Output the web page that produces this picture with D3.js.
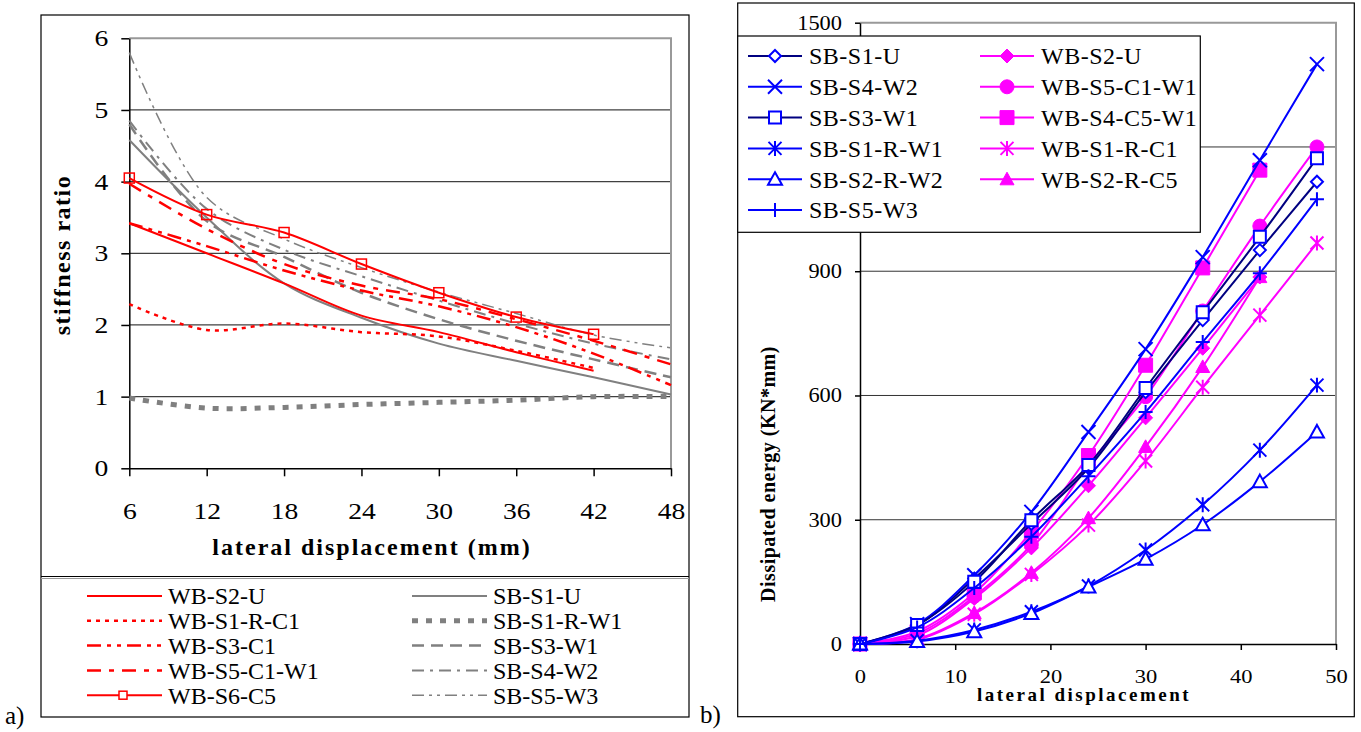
<!DOCTYPE html>
<html>
  <head>
    <meta charset="UTF-8" />
    <script src="https://cdnjs.cloudflare.com/ajax/libs/d3/7.8.5/d3.min.js"></script>
    <style>
      body { margin: 0; background: #fff; }
      text { font-family: "Liberation Serif", "Times New Roman", serif; fill: #000; }
    </style>
  </head>
  <body>
    <div id="viz"><svg width="1361" height="732"></svg></div>
    <script>
      // ---- a) stiffness ratio ----
      const dispA = [6, 12, 18, 24, 30, 36, 42, 48];
      const ticksA = [0, 1, 2, 3, 4, 5, 6];

      const wbS2U = [3.42, 3.0, 2.58, 2.13, 1.9, 1.62, 1.36];
      const wbS1RC1 = [2.29, 1.93, 2.02, 1.9, 1.84, 1.64, 1.4];
      const wbS3C1 = [3.42, 3.1, 2.76, 2.48, 2.26, 1.97, 1.6, 1.16];
      const wbS5C1W1 = [3.97, 3.34, 2.85, 2.55, 2.36, 2.08, 1.78, 1.45];
      const wbS6C5 = [4.05, 3.54, 3.29, 2.85, 2.45, 2.11, 1.87];

      const sbS1U = [4.58, 3.5, 2.58, 2.1, 1.74, 1.5, 1.27, 1.03];
      const sbS1RW1 = [0.98, 0.84, 0.85, 0.89, 0.92, 0.95, 1.0, 1.0];
      const sbS3W1 = [4.8, 3.45, 2.95, 2.45, 2.08, 1.78, 1.52, 1.27];
      const sbS4W2 = [4.85, 3.62, 3.05, 2.68, 2.34, 2.02, 1.74, 1.52];
      const sbS5W3 = [5.8, 3.78, 3.2, 2.8, 2.46, 2.16, 1.86, 1.68];

      // ---- b) dissipated energy ----
      const dispB = [0, 6, 12, 18, 24, 30, 36, 42, 48];
      const ticksBy = [0, 300, 600, 900, 1200, 1500];
      const ticksBx = [0, 10, 20, 30, 40, 50];

      const eSbS1U = [0, 45, 158, 290, 425, 608, 782, 951, 1116];
      const eSbS4W2 = [0, 48, 166, 319, 512, 712, 934, 1168, 1400];
      const eSbS3W1 = [0, 46, 150, 299, 432, 618, 801, 983, 1173];
      const eSbS1RW1 = [0, 8, 34, 78, 140, 227, 336, 468, 625];
      const eSbS2RW2 = [0, 6, 30, 74, 138, 205, 288, 392, 512];
      const eSbS5W3 = [0, 40, 135, 259, 405, 560, 729, 895, 1074];
      const eWbS2U = [0, 20, 110, 232, 382, 546, 714, 886];
      const eWbS5C1W1 = [0, 25, 115, 240, 432, 597, 804, 1009, 1200];
      const eWbS4C5W1 = [0, 30, 123, 271, 455, 673, 908, 1144];
      const eWbS1RC1 = [0, 10, 72, 168, 287, 442, 620, 794, 968];
      const eWbS2RC5 = [0, 12, 75, 172, 304, 476, 669, 886];

      const RED = "#ff0000", GREY = "#808080", BLUE = "#0000ff", NAVY = "#000080", MAG = "#ff00ff";

      const seriesA = [
        { name: "WB-S2-U", v: wbS2U, c: RED, w: 2, dash: null },
        { name: "WB-S1-R-C1", v: wbS1RC1, c: RED, w: 2.5, dash: "4,5" },
        { name: "WB-S3-C1", v: wbS3C1, c: RED, w: 2.5, dash: "14,6,4,6,4,6" },
        { name: "WB-S5-C1-W1", v: wbS5C1W1, c: RED, w: 2.5, dash: "14,8,5,8" },
        { name: "WB-S6-C5", v: wbS6C5, c: RED, w: 2, dash: null, marker: true },
        { name: "SB-S1-U", v: sbS1U, c: GREY, w: 2, dash: null },
        { name: "SB-S1-R-W1", v: sbS1RW1, c: GREY, w: 5, dash: "6,8" },
        { name: "SB-S3-W1", v: sbS3W1, c: GREY, w: 2.5, dash: "12,7" },
        { name: "SB-S4-W2", v: sbS4W2, c: GREY, w: 2, dash: "12,6,3,6" },
        { name: "SB-S5-W3", v: sbS5W3, c: GREY, w: 1.5, dash: "12,5,3,5,3,5" }
      ];

      const seriesB = [
        { name: "SB-S1-U", v: eSbS1U, c: NAVY, m: BLUE, t: "diamond", fill: false },
        { name: "SB-S4-W2", v: eSbS4W2, c: BLUE, m: BLUE, t: "x", fill: false },
        { name: "SB-S3-W1", v: eSbS3W1, c: NAVY, m: BLUE, t: "square", fill: false },
        { name: "SB-S1-R-W1", v: eSbS1RW1, c: BLUE, m: BLUE, t: "asterisk", fill: false },
        { name: "SB-S2-R-W2", v: eSbS2RW2, c: BLUE, m: BLUE, t: "triangle", fill: false },
        { name: "SB-S5-W3", v: eSbS5W3, c: BLUE, m: BLUE, t: "plus", fill: false },
        { name: "WB-S2-U", v: eWbS2U, c: MAG, m: MAG, t: "diamond", fill: true },
        { name: "WB-S5-C1-W1", v: eWbS5C1W1, c: MAG, m: MAG, t: "circle", fill: true },
        { name: "WB-S4-C5-W1", v: eWbS4C5W1, c: MAG, m: MAG, t: "square", fill: true },
        { name: "WB-S1-R-C1", v: eWbS1RC1, c: MAG, m: MAG, t: "asterisk", fill: false },
        { name: "WB-S2-R-C5", v: eWbS2RC5, c: MAG, m: MAG, t: "triangle", fill: true }
      ];

      const svg = d3.select("svg");

      function markerPath(type, s) {
        switch (type) {
          case "diamond": return `M0,${-s}L${s},0L0,${s}L${-s},0Z`;
          case "square": return `M${-s},${-s}H${s}V${s}H${-s}Z`;
          case "triangle": return `M0,${-s}L${s},${s * 0.8}L${-s},${s * 0.8}Z`;
          case "circle": return d3.symbol().type(d3.symbolCircle).size(Math.PI * s * s)();
          case "x": return `M${-s},${-s}L${s},${s}M${s},${-s}L${-s},${s}`;
          case "plus": return `M${-s},0H${s}M0,${-s}V${s}`;
          case "asterisk": return `M${-s},${-s}L${s},${s}M${s},${-s}L${-s},${s}M0,${-s * 1.15}V${s * 1.15}`;
        }
      }
      const markerSize = { diamond: 6, square: 6, triangle: 7, circle: 7, x: 7, plus: 7, asterisk: 6.5 };

      function drawMarker(g, d, x, y) {
        const open = ["x", "plus", "asterisk"].includes(d.t);
        let s = markerSize[d.t];
        if (d.fill && (d.t === "square" || d.t === "diamond")) s = 7;
        g.append("path")
          .attr("transform", `translate(${x},${y})`)
          .attr("d", markerPath(d.t, s))
          .style("fill", d.fill ? d.m : open ? "none" : "#fff")
          .style("stroke", d.m)
          .style("stroke-width", d.fill ? 1 : 2);
      }

      // Excel-like wide tick labels
      function styleTicks(a, size, sx, anchorX) {
        a.selectAll("path, line").style("stroke", "#000").style("stroke-width", 1.5);
        a.selectAll("text")
          .style("font-size", size + "px")
          .style("font-family", "Liberation Serif, serif")
          .each(function () {
            const t = d3.select(this);
            if (anchorX != null) {
              t.attr("x", 0).attr("transform", `translate(${anchorX},0) scale(${sx},1)`);
            } else {
              t.attr("transform", `scale(${sx},1)`);
            }
          });
      }

      // ======== chart a ========
      const xA = d3.scaleLinear().domain([6, 48]).range([129.3, 671]);
      const yA = d3.scaleLinear().domain([0, 6]).range([468.3, 38.3]);

      const gA = svg.append("g").attr("id", "chartA");

      gA.append("rect")
        .attr("x", 41).attr("y", 15).attr("width", 648).attr("height", 702)
        .style("fill", "#fff").style("stroke", "#000").style("stroke-width", 1.2);

      gA.selectAll(".grid")
        .data(ticksA.filter(t => t > 0 && t < 6))
        .enter()
        .append("line")
        .attr("x1", xA(6)).attr("x2", xA(48))
        .attr("y1", d => yA(d)).attr("y2", d => yA(d))
        .style("stroke", "#404040").style("stroke-width", 1.2);

      // plot area border (top/right)
      gA.append("path")
        .attr("d", `M${xA(6)},${yA(6)}H${xA(48)}V${yA(0)}`)
        .style("fill", "none").style("stroke", "#999").style("stroke-width", 2);

      const axA = gA.append("g")
        .attr("transform", `translate(${xA(6)},0)`)
        .call(d3.axisLeft(yA).tickValues(ticksA).tickFormat(d3.format("d")).tickSize(8).tickSizeOuter(0));
      styleTicks(axA, 23, 1.2, -21);
      const axAx = gA.append("g")
        .attr("transform", `translate(0,${yA(0)})`)
        .call(d3.axisBottom(xA).tickValues(dispA).tickSize(8).tickPadding(26).tickSizeOuter(0));
      styleTicks(axAx, 23, 1.2, null);

      gA.append("text")
        .attr("x", 372).attr("y", 555)
        .attr("text-anchor", "middle")
        .style("font-size", "24px").style("font-weight", "bold").style("letter-spacing", "2px")
        .text("lateral displacement (mm)");
      gA.append("text")
        .attr("transform", "translate(70,255) rotate(-90)")
        .attr("text-anchor", "middle")
        .style("font-size", "24px").style("font-weight", "bold").style("letter-spacing", "1.5px")
        .text("stiffness ratio");

      const lineA = d3.line()
        .x((d, i) => xA(dispA[i]))
        .y(d => yA(d))
        .curve(d3.curveCatmullRom.alpha(0.5));

      const drawOrderA = seriesA.filter(d => d.c === GREY).concat(seriesA.filter(d => d.c === RED));
      gA.selectAll(".lineA")
        .data(drawOrderA)
        .enter()
        .append("path")
        .attr("d", d => lineA(d.v))
        .style("fill", "none")
        .style("stroke", d => d.c)
        .style("stroke-width", d => d.w)
        .style("stroke-dasharray", d => d.dash);

      const s6 = seriesA.find(d => d.marker);
      gA.selectAll(".sqA")
        .data(s6.v)
        .enter()
        .append("rect")
        .attr("x", (d, i) => xA(dispA[i]) - 5)
        .attr("y", d => yA(d) - 5)
        .attr("width", 10).attr("height", 10)
        .style("fill", "none").style("stroke", RED).style("stroke-width", 1.5);

      // legend a
      gA.append("line").attr("x1", 41).attr("x2", 689).attr("y1", 576.5).attr("y2", 576.5)
        .style("stroke", "#000").style("stroke-width", 1.2);
      gA.append("line").attr("x1", 41).attr("x2", 689).attr("y1", 578.5).attr("y2", 578.5)
        .style("stroke", "#999").style("stroke-width", 1.2);

      const legA = gA.selectAll(".legA")
        .data(seriesA)
        .enter()
        .append("g")
        .attr("transform", (d, i) => `translate(${i < 5 ? 87 : 412},${596 + (i % 5) * 24.8})`);
      legA.append("line")
        .attr("x1", 0).attr("x2", 75)
        .style("stroke", d => d.c)
        .style("stroke-width", d => d.w)
        .style("stroke-dasharray", d => d.dash);
      legA.filter(d => d.marker)
        .append("rect")
        .attr("x", 32).attr("y", -4).attr("width", 8).attr("height", 8)
        .style("fill", "#fff").style("stroke", RED).style("stroke-width", 1.5);
      legA.append("text")
        .attr("x", 81).attr("dy", "0.35em")
        .style("font-size", "24px")
        .text(d => d.name);

      svg.append("text").attr("x", 5).attr("y", 724).style("font-size", "25px").text("a)");

      // ======== chart b ========
      const xB = d3.scaleLinear().domain([0, 50]).range([860, 1336]);
      const yB = d3.scaleLinear().domain([0, 1500]).range([644, 22.7]);

      const gB = svg.append("g").attr("id", "chartB");

      gB.append("rect")
        .attr("x", 737.7).attr("y", 3).attr("width", 616.6).attr("height", 713.7)
        .style("fill", "#fff").style("stroke", "#000").style("stroke-width", 1.2);

      gB.selectAll(".gridB")
        .data(ticksBy.filter(t => t > 0 && t < 1500))
        .enter()
        .append("line")
        .attr("x1", xB(0)).attr("x2", xB(50))
        .attr("y1", d => yB(d)).attr("y2", d => yB(d))
        .style("stroke", "#333").style("stroke-width", 1);

      gB.append("path")
        .attr("d", `M${xB(0)},${yB(1500)}H${xB(50)}V${yB(0)}`)
        .style("fill", "none").style("stroke", "#999").style("stroke-width", 2);

      // the 1200 label sits under the legend box in the original
      const axBy = gB.append("g")
        .attr("transform", `translate(${xB(0)},0)`)
        .call(d3.axisLeft(yB).tickValues(ticksBy).tickSize(5).tickSizeOuter(0)
          .tickFormat(d => (d === 1200 ? "" : d3.format("d")(d))));
      styleTicks(axBy, 20, 1.12, -18);
      const axBx = gB.append("g")
        .attr("transform", `translate(0,${yB(0)})`)
        .call(d3.axisBottom(xB).tickValues(ticksBx).tickSize(6).tickPadding(20).tickSizeOuter(0));
      styleTicks(axBx, 18, 1.25, null);

      gB.append("text")
        .attr("x", 1084).attr("y", 701)
        .attr("text-anchor", "middle")
        .style("font-size", "19px").style("font-weight", "bold").style("letter-spacing", "2.5px")
        .text("lateral displacement");
      gB.append("text")
        .attr("transform", "translate(775,474) rotate(-90)")
        .attr("text-anchor", "middle")
        .style("font-size", "20px").style("font-weight", "bold").style("letter-spacing", "0.5px")
        .text("Dissipated energy (KN*mm)");

      const lineB = d3.line()
        .x((d, i) => xB(dispB[i]))
        .y(d => yB(d))
        .curve(d3.curveCatmullRom.alpha(0.5));

      const drawOrderB = seriesB.filter(d => d.c === MAG).concat(seriesB.filter(d => d.c !== MAG));
      const serB = gB.selectAll(".serB")
        .data(drawOrderB)
        .enter()
        .append("g");
      serB.append("path")
        .attr("d", d => lineB(d.v))
        .style("fill", "none")
        .style("stroke", d => d.c)
        .style("stroke-width", 2);
      serB.each(function (d) {
        const g = d3.select(this);
        d.v.forEach((v, i) => drawMarker(g, d, xB(dispB[i]), yB(v)));
      });

      // legend b
      gB.append("rect")
        .attr("x", 737.7).attr("y", 36).attr("width", 462.6).attr("height", 196.3)
        .style("fill", "#fff").style("stroke", "#000").style("stroke-width", 1.2);
      const legB = gB.selectAll(".legB")
        .data(seriesB)
        .enter()
        .append("g")
        .attr("transform", (d, i) => `translate(${i < 6 ? 748 : 980},${56 + (i % 6) * 30.8})`);
      legB.append("line")
        .attr("x1", 0).attr("x2", 54)
        .style("stroke", d => d.c).style("stroke-width", 2);
      legB.each(function (d) { drawMarker(d3.select(this), d, 27, 0); });
      legB.append("text")
        .attr("x", 61).attr("dy", "0.35em")
        .style("font-size", "24px").style("letter-spacing", "0.5px")
        .text(d => d.name);

      svg.append("text").attr("x", 700).attr("y", 723).style("font-size", "25px").text("b)");
    </script>
  </body>
</html>
